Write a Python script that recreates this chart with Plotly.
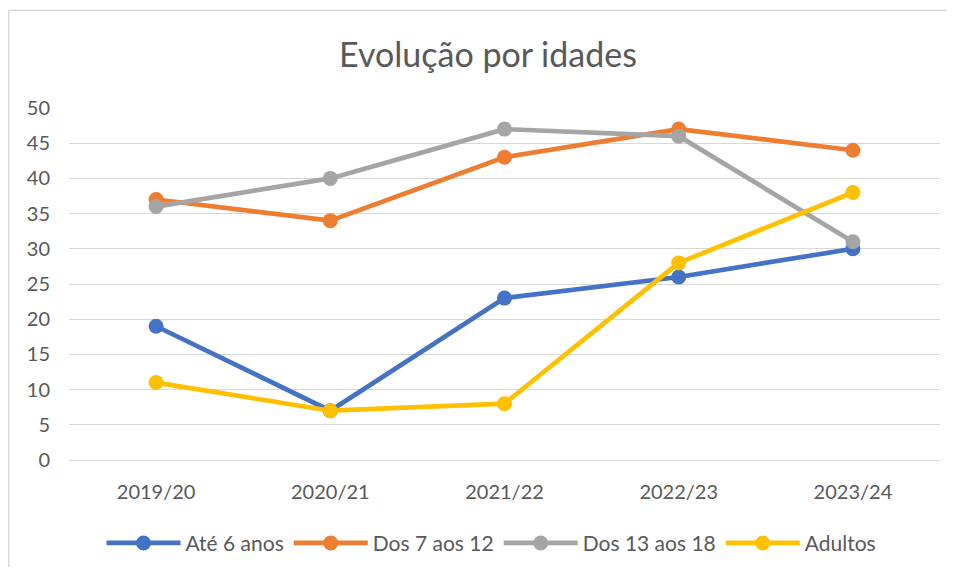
import plotly.graph_objects as go

categories = ["2019/20", "2020/21", "2021/22", "2022/23", "2023/24"]
ate_6 = [19, 7, 23, 26, 30]
dos_7_12 = [37, 34, 43, 47, 44]
dos_13_18 = [36, 40, 47, 46, 31]
adultos = [11, 7, 8, 28, 38]

series = [
    ("Até 6 anos", ate_6, "#4472C4"),
    ("Dos 7 aos 12", dos_7_12, "#ED7D31"),
    ("Dos 13 aos 18", dos_13_18, "#A5A5A5"),
    ("Adultos", adultos, "#FFC000"),
]

fig = go.Figure()
for name, vals, color in series:
    fig.add_trace(go.Scatter(
        x=categories, y=vals, name=name, mode="lines+markers",
        line=dict(color=color, width=4.7),
        marker=dict(color=color, size=15),
    ))

W, H = 939, 563
L, R, T, B = 61, 7, 100, 108
PW, PH = W - L - R, H - T - B

fig.update_layout(
    width=W, height=H,
    margin=dict(l=L, r=R, t=T, b=B),
    paper_bgcolor="white", plot_bgcolor="white",
    font=dict(family="Lato, Open Sans, sans-serif", color="#595959", size=20),
    title=dict(text="Evolução por idades", x=(488 - 8) / W, xanchor="center",
               y=1 - 47 / H, yanchor="middle",
               font=dict(size=34, color="#595959")),
    xaxis=dict(showgrid=False, showline=False, ticks="", range=[-0.5, 4.5],
               ticklabelstandoff=18,
               tickfont=dict(size=20, color="#595959")),
    yaxis=dict(range=[0, 50], dtick=5, showgrid=True, gridcolor="#D9D9D9",
               gridwidth=1.3, zeroline=True, zerolinecolor="#D9D9D9",
               zerolinewidth=1.3, ticks="", ticklabelstandoff=18,
               tickfont=dict(size=20, color="#595959")),
    legend=dict(orientation="h", x=(491.5 - 69) / PW, xanchor="center",
                y=(455 - 539) / PH, yanchor="middle",
                font=dict(size=21, color="#595959"),
                itemwidth=74, traceorder="normal"),
    showlegend=True,
)

# chart-area border: top edge and left edge only
fig.add_shape(type="line", xref="paper", yref="paper",
              x0=(0.75 - L) / PW, x1=(W - L) / PW,
              y0=(T + PH - 1.5) / PH, y1=(T + PH - 1.5) / PH,
              line=dict(color="#D9D9D9", width=1.5), layer="below")
fig.add_shape(type="line", xref="paper", yref="paper",
              x0=(0.75 - L) / PW, x1=(0.75 - L) / PW,
              y0=(T + PH - H) / PH, y1=(T + PH - 1.5) / PH,
              line=dict(color="#D9D9D9", width=1.5), layer="below")

fig.write_html("out.html", config={"displayModeBar": False})
